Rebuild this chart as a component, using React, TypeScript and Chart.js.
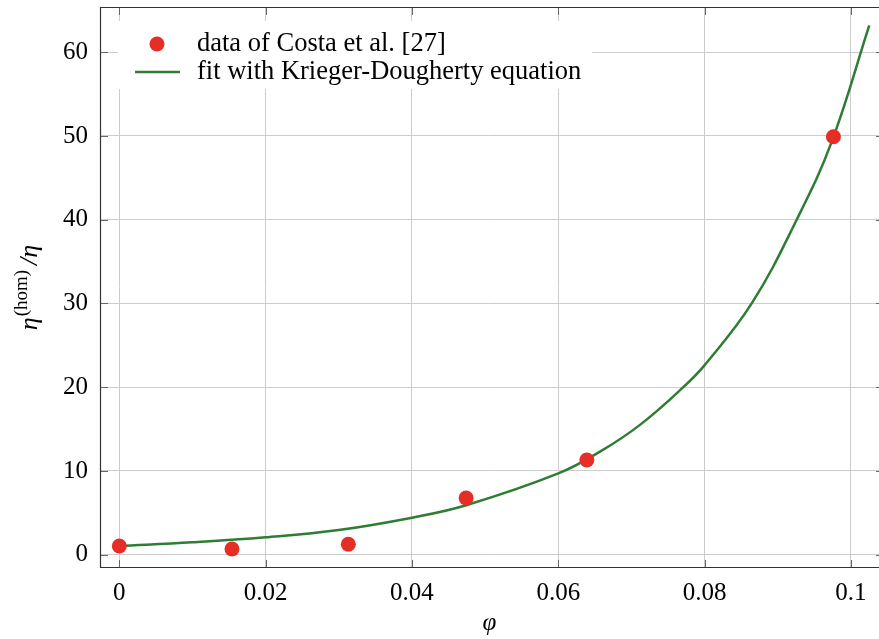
import React, { useEffect, useRef } from "react";
import { Chart, registerables } from "chart.js";

Chart.register(...registerables);

// ---- data ----
const dataPhi = [0, 0.0154, 0.0313, 0.0474, 0.0639, 0.0976];
const dataEta = [1.04, 0.68, 1.24, 6.77, 11.3, 49.9];

const fitPhi = [0, 0.01, 0.02, 0.03, 0.04, 0.0474, 0.06, 0.0657, 0.07116, 0.07708, 0.08, 0.08643, 0.09258, 0.09736, 0.1025];
const fitEta = [1.04, 1.48, 2.08, 2.95, 4.42, 5.9, 9.7, 12.3, 15.5, 20.0, 22.64, 30.0, 40.0, 49.3, 63.2];

const xTicks = [0, 0.02, 0.04, 0.06, 0.08, 0.1];
const xTickLabels = ["0", "0.02", "0.04", "0.06", "0.08", "0.1"];
const yTicks = [0, 10, 20, 30, 40, 50, 60];
const yTickLabels = ["0", "10", "20", "30", "40", "50", "60"];

const xRange = [-0.00264, 0.10383];
const yRange = [-1.59, 65.4];

const seriesLabels = ["data of Costa et al. [27]", "fit with Krieger-Dougherty equation"];

const FONT = "'Liberation Serif', 'Times New Roman', serif";
const RED = "#e52e26";
const GREEN = "#2e7d32";

const framePlugin = {
  id: "frameTicks",
  afterDraw(chart: any) {
    const { ctx, chartArea } = chart;
    const { left, right, top, bottom } = chartArea;
    const xs = chart.scales.x;
    const ys = chart.scales.y;
    ctx.save();
    ctx.strokeStyle = "#666";
    ctx.lineWidth = 1;
    const tl = 8;
    ctx.beginPath();
    xTicks.forEach((v) => {
      const px = Math.round(xs.getPixelForValue(v)) + 0.5;
      ctx.moveTo(px, bottom);
      ctx.lineTo(px, bottom - tl);
      ctx.moveTo(px, top);
      ctx.lineTo(px, top + tl);
    });
    yTicks.forEach((v) => {
      const py = Math.round(ys.getPixelForValue(v)) + 0.5;
      ctx.moveTo(left, py);
      ctx.lineTo(left + tl, py);
      ctx.moveTo(right, py);
      ctx.lineTo(right - 3, py);
    });
    ctx.stroke();
    ctx.strokeStyle = "#333";
    ctx.lineWidth = 1.2;
    ctx.beginPath();
    ctx.moveTo(right + 2, top + 0.5);
    ctx.lineTo(left + 0.5, top + 0.5);
    ctx.lineTo(left + 0.5, bottom - 0.5);
    ctx.lineTo(right + 2, bottom - 0.5);
    ctx.stroke();
    ctx.restore();
  },
};

const legendPlugin = {
  id: "boxLegend",
  afterDatasetsDraw(chart: any) {
    const { ctx, chartArea } = chart;
    const x0 = chartArea.left + 18;
    const y0 = chartArea.top + 14;
    ctx.save();
    ctx.fillStyle = "#ffffff";
    ctx.fillRect(x0, y0, 474, 68);
    const row1 = y0 + 23;
    const row2 = y0 + 51;
    ctx.fillStyle = RED;
    ctx.beginPath();
    ctx.arc(x0 + 39, row1, 7.5, 0, Math.PI * 2);
    ctx.fill();
    ctx.strokeStyle = GREEN;
    ctx.lineWidth = 2.5;
    ctx.beginPath();
    ctx.moveTo(x0 + 17, row2);
    ctx.lineTo(x0 + 62, row2);
    ctx.stroke();
    ctx.fillStyle = "#000";
    ctx.font = `26.5px ${FONT}`;
    ctx.textBaseline = "middle";
    ctx.textAlign = "left";
    ctx.fillText(seriesLabels[0], x0 + 79, row1);
    ctx.fillText(seriesLabels[1], x0 + 79, row2);
    ctx.restore();
  },
};

const yTitlePlugin = {
  id: "yTitle",
  afterDraw(chart: any) {
    const { ctx, chartArea } = chart;
    const cy = (chartArea.top + chartArea.bottom) / 2;
    const cx = 30;
    ctx.save();
    ctx.translate(cx, cy);
    ctx.rotate(-Math.PI / 2);
    ctx.fillStyle = "#000";
    ctx.textBaseline = "alphabetic";
    ctx.textAlign = "left";
    const mainFont = `italic 26px ${FONT}`;
    const supFont = `19px ${FONT}`;
    ctx.font = mainFont;
    const w1 = ctx.measureText("η").width;
    ctx.font = supFont;
    const w2 = ctx.measureText("(hom)").width;
    ctx.font = mainFont;
    const w3 = ctx.measureText("/η").width;
    const gap = 5;
    const total = w1 + 1 + w2 + gap + w3;
    let x = -total / 2;
    const base = 7;
    ctx.font = mainFont;
    ctx.fillText("η", x, base);
    x += w1 + 1;
    ctx.font = supFont;
    ctx.fillText("(hom)", x, base - 10);
    x += w2 + gap;
    ctx.font = mainFont;
    ctx.fillText("/η", x, base);
    ctx.restore();
  },
};

export default function App() {
  const ref = useRef<HTMLCanvasElement | null>(null);

  useEffect(() => {
    document.body.style.margin = "0";
    const canvas = ref.current;
    if (!canvas) return;
    const chart = new Chart(canvas, {
      type: "scatter",
      data: {
        datasets: [
          {
            label: seriesLabels[0],
            data: dataPhi.map((x, i) => ({ x, y: dataEta[i] })),
            backgroundColor: RED,
            borderColor: RED,
            borderWidth: 0,
            pointRadius: 7.5,
            pointHoverRadius: 7.5,
            showLine: false,
          },
          {
            label: seriesLabels[1],
            data: fitPhi.map((x, i) => ({ x, y: fitEta[i] })),
            borderColor: GREEN,
            backgroundColor: GREEN,
            borderWidth: 2.5,
            pointRadius: 0,
            showLine: true,
            tension: 0.4,
            cubicInterpolationMode: "default",
            fill: false,
          } as any,
        ],
      },
      options: {
        responsive: false,
        animation: false,
        events: [],
        layout: { autoPadding: false, padding: { top: 7, right: 0, left: 0, bottom: 0 } },
        plugins: {
          legend: { display: false },
          tooltip: { enabled: false },
          title: { display: false },
        },
        scales: {
          x: {
            type: "linear",
            min: xRange[0],
            max: xRange[1],
            afterBuildTicks: (s: any) => {
              s.ticks = xTicks.map((v) => ({ value: v }));
            },
            afterFit: (s: any) => {
              s.height = 71;
              s.paddingLeft = 0;
              s.paddingRight = 0;
            },
            ticks: {
              autoSkip: false,
              maxRotation: 0,
              padding: 10,
              color: "#000",
              font: { family: FONT, size: 25 },
              callback: (_v: any, i: number) => xTickLabels[i],
            },
            grid: { color: "#cccccc", lineWidth: 1, drawTicks: false },
            border: { display: false },
            title: {
              display: true,
              text: "φ",
              color: "#000",
              font: { family: FONT, size: 25, style: "italic" },
              padding: { top: 0, bottom: 1 },
            },
          },
          y: {
            type: "linear",
            min: yRange[0],
            max: yRange[1],
            afterBuildTicks: (s: any) => {
              s.ticks = yTicks.map((v) => ({ value: v }));
            },
            afterFit: (s: any) => {
              s.width = 100;
              s.paddingTop = 0;
              s.paddingBottom = 0;
            },
            ticks: {
              autoSkip: false,
              padding: 12,
              color: "#000",
              font: { family: FONT, size: 25 },
              callback: (_v: any, i: number) => yTickLabels[i],
            },
            grid: { color: "#cccccc", lineWidth: 1, drawTicks: false },
            border: { display: false },
          },
        },
      },
      plugins: [legendPlugin, framePlugin, yTitlePlugin],
    });
    return () => chart.destroy();
  }, []);

  return (
    <div style={{ width: 879, height: 639 }}>
      <canvas ref={ref} width={879} height={639} style={{ display: "block", width: 879, height: 639 }} />
    </div>
  );
}
